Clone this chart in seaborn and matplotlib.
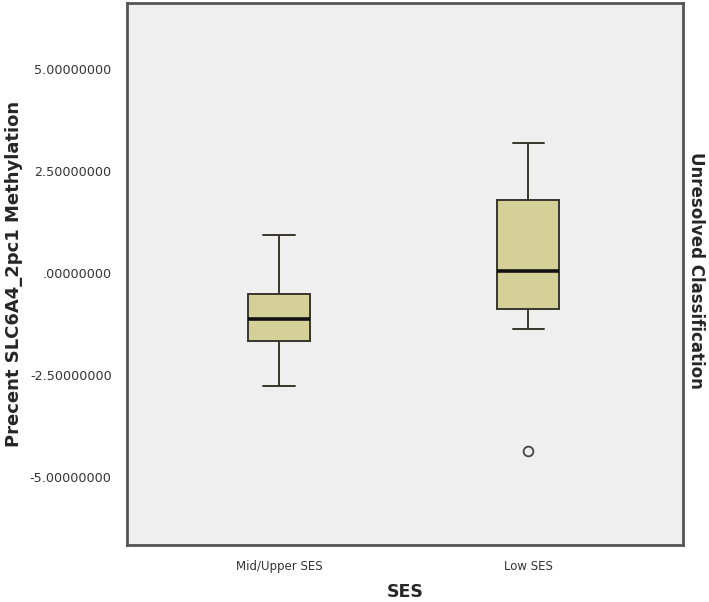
import numpy as np
import pandas as pd
import seaborn as sns
import matplotlib.pyplot as plt

# five-number summaries (whisker low, Q1, median, Q3, whisker high)
groups = ["Mid/Upper SES", "Low SES"]
whisker_lo = [-2.77, -1.37]
q1 = [-1.67, -0.88]
median = [-1.13, 0.05]
q3 = [-0.51, 1.79]
whisker_hi = [0.93, 3.19]
outliers = [[], [-4.36]]

yticks = [5.0, 2.5, 0.0, -2.5, -5.0]
ytick_labels = ["5.00000000", "2.50000000", ".00000000", "-2.50000000", "-5.00000000"]

# rebuild a sample per group whose quartiles match the summaries (9 points -> idx 2/4/6)
rows = []
for i, g in enumerate(groups):
    core = [whisker_lo[i], whisker_lo[i], q1[i], q1[i], median[i], q3[i], q3[i], whisker_hi[i], whisker_hi[i]]
    if outliers[i]:
        core = outliers[i] + core[1:]
    for v in core:
        rows.append({"SES": g, "value": v})
df = pd.DataFrame(rows)

sns.set_style("white")
plt.rcParams["font.family"] = ["DejaVu Sans"]

fig = plt.figure(figsize=(7.09, 6.02), dpi=100)
ax = fig.add_axes([0.179, 0.095, 0.784, 0.9])
ax.set_facecolor("#efefef")

sns.boxplot(data=df, x="SES", y="value", order=groups, ax=ax, width=0.25,
            whis=1.27, color="#d4d097", saturation=1, linecolor="#36362c", linewidth=1.4,
            medianprops=dict(color="#111111", linewidth=2.6),
            flierprops=dict(marker="o", markersize=7, markerfacecolor="none",
                            markeredgecolor="#444444", markeredgewidth=1.3))

ax.set_ylim(-6.67, 6.62)
ax.set_xlim(-0.61, 1.62)
ax.set_yticks(yticks)
ax.set_yticklabels(ytick_labels)

for s in ax.spines.values():
    s.set_color("#555555")
    s.set_linewidth(2)
ax.tick_params(axis="both", direction="out", length=5, width=1.2, color="#333333",
               labelcolor="#333333")
ax.tick_params(axis="y", labelsize=9.2, pad=6)
ax.tick_params(axis="x", labelsize=8.5, pad=6)

ax.set_ylabel("Precent SLC6A4_2pc1 Methylation", fontsize=13, fontweight="bold", labelpad=5)
ax.set_xlabel("SES", fontsize=12.5, fontweight="bold", labelpad=7)
fig.text(0.982, 0.55, "Unresolved Classification", rotation=270, ha="center", va="center",
         fontsize=12, fontweight="bold")

fig.savefig("out.png", dpi=100)
